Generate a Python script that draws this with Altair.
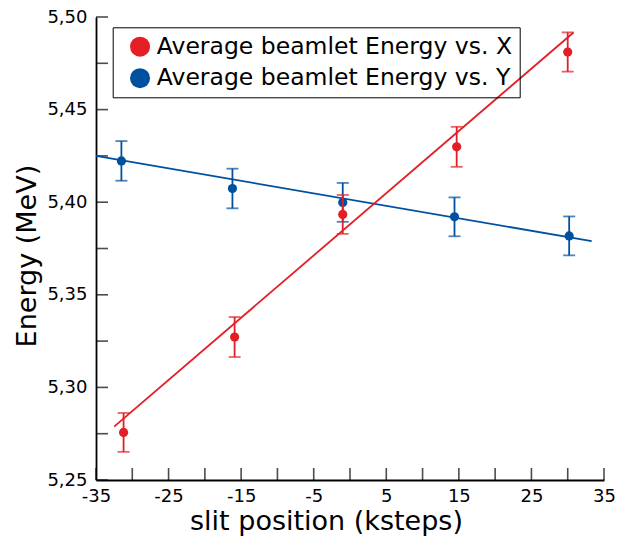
import altair as alt
import pandas as pd

series_names = ["Average beamlet Energy vs. X", "Average beamlet Energy vs. Y"]
colors = ["#E31E24", "#0050A0"]

# Series X (red)
pos_X = [-31.2, -15.9, -1.0, 14.7, 30.0]
energy_X = [5.2757, 5.3272, 5.3934, 5.4299, 5.4811]
err_X = [0.0105, 0.0108, 0.0105, 0.0108, 0.0106]

# Series Y (blue)
pos_Y = [-31.5, -16.2, -1.0, 14.4, 30.2]
energy_Y = [5.4223, 5.4074, 5.3999, 5.3921, 5.3818]
err_Y = [0.0107, 0.0107, 0.0105, 0.0105, 0.0105]

# Fit lines (end points)
fit_X_pos = [-32.5, 30.8]
fit_X_energy = [5.2788, 5.4916]
fit_Y_pos = [-35.0, 33.3]
fit_Y_energy = [5.4250, 5.3790]

# Axis ticks and labels
x_tick_values = [-35, -30, -25, -20, -15, -10, -5, 0, 5, 10, 15, 20, 25, 30, 35]
x_label_values = [-35, -25, -15, -5, 5, 15, 25, 35]
y_tick_values = [5.25, 5.275, 5.30, 5.325, 5.35, 5.375, 5.40, 5.425, 5.45, 5.475, 5.50]
y_label_values = [5.25, 5.30, 5.35, 5.40, 5.45, 5.50]

W, H = 508, 463
FONT = "DejaVu Sans"

xscale = alt.Scale(domain=[-35, 35], nice=False, zero=False)
yscale = alt.Scale(domain=[5.25, 5.50], nice=False, zero=False)
cscale = alt.Scale(domain=series_names, range=colors)

x_axis = alt.Axis(
    values=x_label_values, labelExpr="'' + datum.value",
    title="slit position (ksteps)", ticks=False, tickSize=0, grid=False,
    domainColor="black", domainWidth=1.8, labelFlush=False, labelOverlap=False,
    labelFont=FONT, labelFontSize=18, labelColor="black", labelPadding=7,
    titleFont=FONT, titleFontSize=27, titleFontWeight="normal", titleColor="black",
    titleX=230, titleY=49, titleBaseline="alphabetic", titleAlign="center",
)
y_axis = alt.Axis(
    values=y_label_values, labelExpr="replace(format(datum.value, '.2f'), '.', ',')",
    title="Energy (MeV)", ticks=False, tickSize=0, grid=False,
    domainColor="black", domainWidth=1.8, labelFlush=False, labelOverlap=False,
    labelFont=FONT, labelFontSize=18, labelColor="black", labelPadding=9,
    titleFont=FONT, titleFontSize=27, titleFontWeight="normal", titleColor="black",
    titleX=-60.5, titleY=238.6, titleBaseline="alphabetic", titleAlign="center", titleAngle=270,
)

legend = alt.Legend(
    orient="none", legendX=16.7, legendY=10.3, title=None,
    symbolType="circle", symbolSize=400, symbolStrokeWidth=0, symbolOpacity=1,
    labelFont=FONT, labelFontSize=23.5, labelColor="black", labelLimit=1000,
    padding=7.6, symbolOffset=8, labelOffset=5, rowPadding=6.5,
    strokeColor="black",
)


def X(field):
    return alt.X(field, type="quantitative", scale=xscale, axis=x_axis)


def Y(field):
    return alt.Y(field, type="quantitative", scale=yscale, axis=y_axis)


COLOR = alt.Color("series:N", scale=cscale, legend=legend)


def series_layers(name, pos, energy, err, fpos, fen):
    pts = pd.DataFrame({"x": pos, "y": energy, "err": err, "series": name})
    fit = pd.DataFrame({"x": fpos, "y": fen, "series": name})
    line = alt.Chart(fit).mark_line(strokeWidth=1.8).encode(
        x=X("x"), y=Y("y"), color=COLOR,
    )
    base = alt.Chart(pts).transform_calculate(
        lo="datum.y - datum.err", hi="datum.y + datum.err"
    )
    bar = base.mark_rule(strokeWidth=1.8).encode(
        x=X("x"), y=Y("lo"), y2="hi:Q", color=COLOR,
    )
    cap_lo = base.mark_tick(orient="horizontal", size=12, thickness=1.8).encode(
        x=X("x"), y=Y("lo"), color=COLOR,
    )
    cap_hi = base.mark_tick(orient="horizontal", size=12, thickness=1.8).encode(
        x=X("x"), y=Y("hi"), color=COLOR,
    )
    points = base.mark_circle(size=85, opacity=1).encode(x=X("x"), y=Y("y"), color=COLOR)
    return [line, bar, cap_lo, cap_hi, points]


xt = pd.DataFrame({"v": x_tick_values})
yt = pd.DataFrame({"v": y_tick_values})
x_ticks = alt.Chart(xt).mark_tick(orient="vertical", size=12, thickness=1.6, color="black").encode(
    x=X("v"), y=alt.value(H - 6)
)
y_ticks = alt.Chart(yt).mark_tick(orient="horizontal", size=12, thickness=1.6, color="black").encode(
    y=Y("v"), x=alt.value(6)
)

layers = [x_ticks, y_ticks]
layers += series_layers(series_names[1], pos_Y, energy_Y, err_Y, fit_Y_pos, fit_Y_energy)
layers += series_layers(series_names[0], pos_X, energy_X, err_X, fit_X_pos, fit_X_energy)

chart = alt.layer(*layers).properties(
    width=W, height=H,
    autosize=alt.AutoSizeParams(type="none"),
    padding={"left": 96, "top": 17, "right": 20, "bottom": 58},
    background="white",
).configure_view(strokeWidth=0)

chart.save("out.html", embed_options={"renderer": "svg", "actions": False})
